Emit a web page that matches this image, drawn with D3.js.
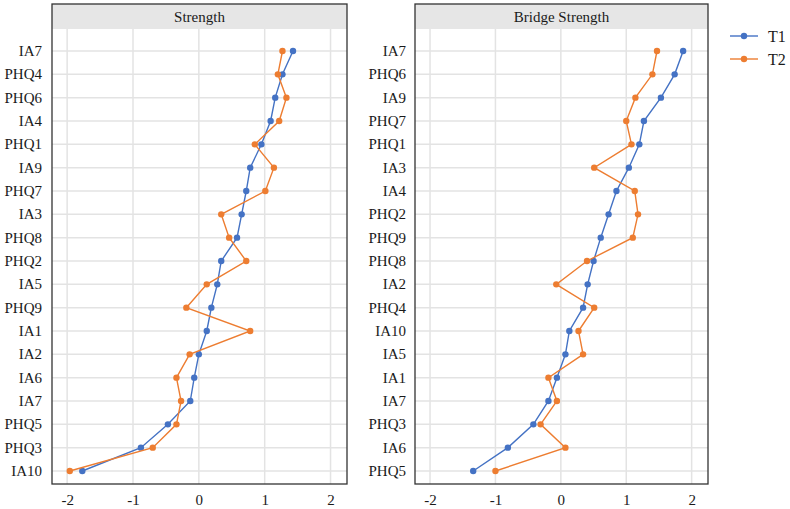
<!DOCTYPE html>
<html><head><meta charset="utf-8">
<script src="https://cdn.jsdelivr.net/npm/d3@7"></script>
<style>body{margin:0;background:#fff}svg{display:block}svg text{font-family:"Liberation Serif","Times New Roman",Times,serif}</style>
</head><body><svg id="c" width="790" height="509"></svg>
<script>
const strengthNodes = ["IA7","PHQ4","PHQ6","IA4","PHQ1","IA9","PHQ7","IA3","PHQ8","PHQ2","IA5","PHQ9","IA1","IA2","IA6","IA7","PHQ5","PHQ3","IA10"];
const strengthT1 = [1.43,1.27,1.16,1.09,0.95,0.78,0.72,0.65,0.58,0.34,0.28,0.19,0.12,0.00,-0.07,-0.13,-0.47,-0.88,-1.77];
const strengthT2 = [1.27,1.20,1.33,1.22,0.85,1.14,1.01,0.34,0.46,0.72,0.12,-0.19,0.78,-0.14,-0.34,-0.27,-0.34,-0.70,-1.96];
const bridgeNodes = ["IA7","PHQ6","IA9","PHQ7","PHQ1","IA3","IA4","PHQ2","PHQ9","PHQ8","IA2","PHQ4","IA10","IA5","IA1","IA7","PHQ3","IA6","PHQ5"];
const bridgeT1 = [1.87,1.74,1.53,1.27,1.20,1.04,0.85,0.73,0.61,0.50,0.41,0.34,0.13,0.07,-0.06,-0.19,-0.42,-0.81,-1.34];
const bridgeT2 = [1.47,1.40,1.14,1.00,1.08,0.51,1.13,1.18,1.10,0.40,-0.07,0.51,0.27,0.34,-0.19,-0.06,-0.31,0.07,-1.00];
const xTicks = [-2,-1,0,1,2];
const seriesNames = ["T1","T2"];
const colors = ["#4472C4","#ED7D31"];

const svg = d3.select("#c");

const panels = [
  {title:"Strength", nodes:strengthNodes, series:[strengthT1,strengthT2], x0:52, x1:347, labelX:42},
  {title:"Bridge Strength", nodes:bridgeNodes, series:[bridgeT1,bridgeT2], x0:415, x1:708, labelX:406}
];
const panelTop = 4, headerH = 25, panelBottom = 484;
const textColor = "#1a1a1a";

panels.forEach(p => {
  const g = svg.append("g");
  const x = d3.scaleLinear().domain([-2.23, 2.25]).range([p.x0, p.x1]);
  const y = d3.scalePoint().domain(d3.range(p.nodes.length)).range([51, 471]);
  g.append("rect").attr("x", p.x0).attr("y", panelTop).attr("width", p.x1 - p.x0).attr("height", headerH)
    .attr("fill", "#e6e6e6");
  g.append("text").attr("x", (p.x0 + p.x1) / 2).attr("y", panelTop + 18).attr("text-anchor", "middle")
    .attr("font-size", 15).attr("fill", textColor).text(p.title);
  g.selectAll(".vg").data(xTicks).join("line")
    .attr("x1", d => x(d)).attr("x2", d => x(d)).attr("y1", panelTop + headerH).attr("y2", panelBottom)
    .attr("stroke", "#e3e3e3").attr("stroke-width", 1.5);
  g.selectAll(".hg").data(d3.range(p.nodes.length)).join("line")
    .attr("x1", p.x0).attr("x2", p.x1).attr("y1", d => y(d)).attr("y2", d => y(d))
    .attr("stroke", "#e3e3e3").attr("stroke-width", 1.5);
  g.append("rect").attr("x", p.x0).attr("y", panelTop).attr("width", p.x1 - p.x0).attr("height", panelBottom - panelTop)
    .attr("fill", "none").attr("stroke", "#333").attr("stroke-width", 1.3);
  g.selectAll(".yl").data(p.nodes).join("text")
    .attr("x", p.labelX).attr("y", (d, i) => y(i) + 5).attr("text-anchor", "end")
    .attr("font-size", 15).attr("fill", textColor).text(d => d);
  const ax = g.append("g").attr("transform", `translate(0,${panelBottom})`)
    .call(d3.axisBottom(x).tickValues(xTicks).tickSize(0).tickPadding(10).tickFormat(d => String(d)));
  ax.attr("font-family", null);
  ax.select(".domain").remove();
  ax.selectAll("text").attr("font-size", 15).attr("fill", textColor);
  p.series.forEach((vals, si) => {
    const line = d3.line().x(d => x(d)).y((d, i) => y(i));
    g.append("path").datum(vals).attr("d", line).attr("fill", "none")
      .attr("stroke", colors[si]).attr("stroke-width", 1.4);
    g.selectAll(".pt" + si).data(vals).join("circle").attr("class", "pt" + si)
      .attr("cx", d => x(d)).attr("cy", (d, i) => y(i)).attr("r", 3.2).attr("fill", colors[si]);
  });
});

const lg = svg.append("g");
seriesNames.forEach((n, i) => {
  const yy = 36 + i * 23;
  lg.append("line").attr("x1", 730).attr("x2", 758).attr("y1", yy).attr("y2", yy)
    .attr("stroke", colors[i]).attr("stroke-width", 1.4);
  lg.append("circle").attr("cx", 744).attr("cy", yy).attr("r", 3.2).attr("fill", colors[i]);
  lg.append("text").attr("x", 768).attr("y", yy + 5.5).attr("font-size", 16)
    .attr("fill", textColor).text(n);
});
</script></body></html>
